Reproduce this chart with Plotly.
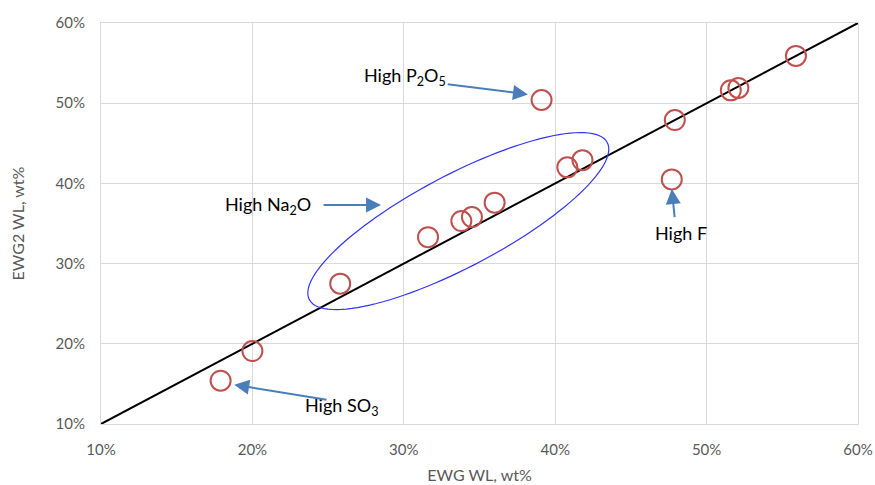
import numpy as np
import plotly.graph_objects as go

# Data (wt%)
ewg_wl = [55.9, 51.6, 52.1, 47.9, 47.7, 39.1, 40.8, 41.8, 36.0, 34.5, 33.8, 31.6, 25.8, 20.0, 17.9]
ewg2_wl = [55.9, 51.6, 51.9, 47.9, 40.5, 50.4, 42.0, 42.9, 37.6, 35.8, 35.3, 33.3, 27.5, 19.1, 15.4]
line_x = [10, 60]
line_y = [10, 60]
x_ticks = [10, 20, 30, 40, 50, 60]
y_ticks = [10, 20, 30, 40, 50, 60]
x_ticktext = ["10%", "20%", "30%", "40%", "50%", "60%"]
y_ticktext = ["10%", "20%", "30%", "40%", "50%", "60%"]

# Ellipse (data units): center and two conjugate axis vectors
ell_center = (33.6, 35.3)
ell_u = (9.94, 8.97)
ell_v = (0.0, -6.43)

fig = go.Figure()
fig.add_trace(go.Scatter(x=line_x, y=line_y, mode="lines",
                         line=dict(color="black", width=2), hoverinfo="skip"))
fig.add_trace(go.Scatter(x=ewg_wl, y=ewg2_wl, mode="markers",
                         marker=dict(symbol="circle-open", size=20,
                                     line=dict(color="#C0504D", width=2),
                                     color="#C0504D")))

t = np.linspace(0, 2 * np.pi, 121)
ex = ell_center[0] + ell_u[0] * np.cos(t) + ell_v[0] * np.sin(t)
ey = ell_center[1] + ell_u[1] * np.cos(t) + ell_v[1] * np.sin(t)
path = "M " + " L ".join(f"{a:.4f},{b:.4f}" for a, b in zip(ex, ey)) + " Z"
fig.add_shape(type="path", path=path, xref="x", yref="y",
              line=dict(color="#3333FF", width=1.2))

arrow_col = "#4A7EBB"
FONT = "Lato, 'Open Sans', sans-serif"
txt_font = dict(family=FONT, size=18, color="black")

def label(x, y, text):
    fig.add_annotation(x=x, y=y, text=text, showarrow=False, font=txt_font,
                       xref="x", yref="y")

def arrow(x0, y0, x1, y1):
    fig.add_annotation(x=x1, y=y1, ax=x0, ay=y0, axref="x", ayref="y",
                       xref="x", yref="y", text="", showarrow=True,
                       arrowhead=2, arrowsize=1.5, arrowwidth=2,
                       arrowcolor=arrow_col)

label(30.1, 53.3, "High P<sub>2</sub>O<sub>5</sub>")
arrow(32.8, 52.4, 38.2, 51.1)
label(21.0, 37.3, "High Na<sub>2</sub>O")
arrow(24.6, 37.3, 28.5, 37.3)
label(48.3, 33.8, "High F")
arrow(47.9, 35.6, 47.7, 39.3)
label(25.9, 12.2, "High SO<sub>3</sub>")
arrow(25.0, 13.0, 18.8, 14.9)

def axis(tv, tt, title, standoff, ticklen):
    return dict(range=[10, 60], tickvals=tv, ticktext=tt, automargin=False,
                showgrid=True, gridcolor="#D9D9D9", gridwidth=1,
                showline=True, linecolor="#D9D9D9", linewidth=1, mirror=True,
                zeroline=False, ticks="outside", ticklen=ticklen,
                tickcolor="rgba(0,0,0,0)",
                tickfont=dict(family=FONT, size=15, color="#595959"),
                title=dict(text=title, standoff=standoff,
                           font=dict(family=FONT, size=16, color="#595959")))

fig.update_layout(
    width=875, height=485,
    margin=dict(l=101, r=17, t=23, b=61),
    paper_bgcolor="white", plot_bgcolor="white",
    showlegend=False,
    font=dict(family=FONT),
    xaxis=axis(x_ticks, x_ticktext, "EWG WL, wt%", 12, 12),
    yaxis=axis(y_ticks, y_ticktext, "EWG2 WL, wt%", 26, 12),
)

fig.write_html("out.html")
